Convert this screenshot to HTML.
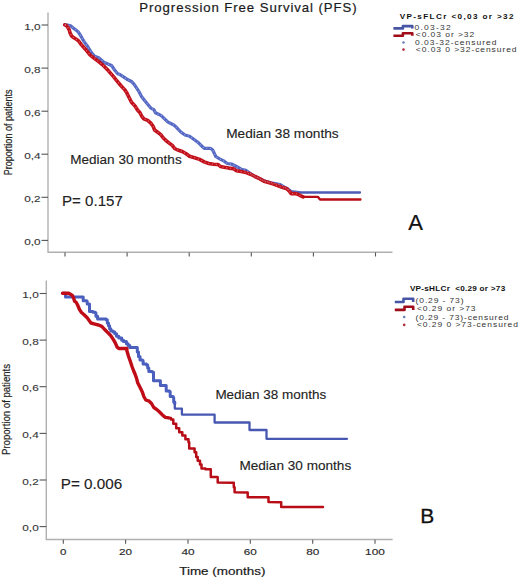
<!DOCTYPE html><html><head><meta charset="utf-8"><title>PFS</title><style>html,body{margin:0;padding:0;background:#fff}body{width:520px;height:579px;overflow:hidden;position:relative}svg{position:absolute;left:0;top:0;display:block}text{font-family:"Liberation Sans",sans-serif}</style></head><body>
<svg width="520" height="579" viewBox="0 0 520 579">
<rect width="520" height="579" fill="#fff"/>
<path d="M48 12.5V252.2H392.5" fill="none" stroke="#b0b0b0" stroke-width="1.4"/>
<path d="M41.5 25.0H48" stroke="#555" stroke-width="1.1"/>
<text x="24.2" y="29.6" font-size="9.2" fill="#383838" font-weight="normal" text-anchor="start" textLength="16.4" lengthAdjust="spacingAndGlyphs" stroke="#383838" stroke-width="0.12">1,0</text>
<path d="M41.5 68.1H48" stroke="#555" stroke-width="1.1"/>
<text x="24.2" y="72.7" font-size="9.2" fill="#383838" font-weight="normal" text-anchor="start" textLength="16.4" lengthAdjust="spacingAndGlyphs" stroke="#383838" stroke-width="0.12">0,8</text>
<path d="M41.5 111.2H48" stroke="#555" stroke-width="1.1"/>
<text x="24.2" y="115.8" font-size="9.2" fill="#383838" font-weight="normal" text-anchor="start" textLength="16.4" lengthAdjust="spacingAndGlyphs" stroke="#383838" stroke-width="0.12">0,6</text>
<path d="M41.5 154.2H48" stroke="#555" stroke-width="1.1"/>
<text x="24.2" y="158.8" font-size="9.2" fill="#383838" font-weight="normal" text-anchor="start" textLength="16.4" lengthAdjust="spacingAndGlyphs" stroke="#383838" stroke-width="0.12">0,4</text>
<path d="M41.5 197.3H48" stroke="#555" stroke-width="1.1"/>
<text x="24.2" y="201.9" font-size="9.2" fill="#383838" font-weight="normal" text-anchor="start" textLength="16.4" lengthAdjust="spacingAndGlyphs" stroke="#383838" stroke-width="0.12">0,2</text>
<path d="M41.5 240.4H48" stroke="#555" stroke-width="1.1"/>
<text x="24.2" y="245.0" font-size="9.2" fill="#383838" font-weight="normal" text-anchor="start" textLength="16.4" lengthAdjust="spacingAndGlyphs" stroke="#383838" stroke-width="0.12">0,0</text>
<path d="M65.0 252.5V256.5" stroke="#555" stroke-width="1.1"/>
<path d="M127.1 252.5V256.5" stroke="#555" stroke-width="1.1"/>
<path d="M189.2 252.5V256.5" stroke="#555" stroke-width="1.1"/>
<path d="M251.3 252.5V256.5" stroke="#555" stroke-width="1.1"/>
<path d="M313.4 252.5V256.5" stroke="#555" stroke-width="1.1"/>
<path d="M375.5 252.5V256.5" stroke="#555" stroke-width="1.1"/>
<text transform="translate(12.2,175.2) rotate(-90)" font-size="11.5" fill="#222" stroke="#222" stroke-width="0.2" textLength="85.7" lengthAdjust="spacingAndGlyphs">Proportion of patients</text>
<polyline points="64.8,24.8 66.3,24.8 70.6,25.8 73.5,28.2 75.9,30.1 78.3,32.0 80.2,34.9 82.1,38.3 84.2,41.9 87.7,46.5 91.2,52.3 94.6,56.3 99.2,58.1 103.8,62.2 111.5,65.4 114.6,70.0 117.7,73.8 120.0,74.6 123.5,76.9 126.9,79.2 131.5,81.5 133.8,83.8 136.2,87.3 138.5,90.8 141.5,96.5 144.6,100.4 147.7,104.2 150.8,108.1 153.8,109.6 155.4,112.7 158.5,114.2 161.5,115.8 164.6,118.8 167.7,121.9 170.8,123.5 173.8,125.0 175.5,126.4 178.1,129.2 181.2,132.3 185.0,135.0 189.6,136.2 192.7,138.5 195.8,140.8 198.8,143.1 201.9,146.2 204.2,148.3 210.4,148.3 212.7,150.0 214.2,153.1 215.8,156.5 219.6,158.8 224.2,161.2 227.3,163.5 231.9,164.2 236.5,166.5 241.2,169.2 245.8,170.4 250.4,173.5 255.0,176.5 259.6,178.6 264.0,180.8 270.8,182.8 280.2,184.5 285.0,187.5 288.5,189.5 291.0,191.5 299.0,192.5" fill="none" stroke="#5468c4" stroke-width="3.2" stroke-linejoin="round" stroke-linecap="round"/>
<polyline points="299.0,192.5 360.0,192.5" fill="none" stroke="#4c5cb4" stroke-width="2.3" stroke-linejoin="round" stroke-linecap="round"/>
<polyline points="64.8,24.8 67.2,26.3 69.1,29.6 70.1,33.0 71.5,35.9 73.9,37.8 76.3,39.2 78.8,41.2 81.3,44.6 85.4,49.2 90.0,54.8 94.6,58.6 99.0,61.8 102.3,64.6 108.5,70.8 113.1,76.2 116.9,80.8 120.8,85.5 124.6,89.6 126.9,93.1 129.2,97.7 131.5,102.3 135.0,106.0 137.5,110.0 140.0,112.7 141.5,115.8 143.8,118.8 147.7,120.4 150.8,123.1 153.1,126.2 154.6,130.0 157.7,132.3 160.8,134.6 163.1,137.7 166.2,140.8 169.2,143.1 172.3,145.4 174.6,148.5 177.7,150.0 182.3,151.5 186.2,153.8 189.5,156.3 194.6,157.7 199.6,159.4 204.2,161.9 208.8,163.5 213.5,164.2 218.1,164.5 220.4,166.5 224.2,167.3 228.8,168.1 233.5,168.8 236.5,170.7 241.2,171.6 245.8,172.4 250.4,174.2 255.0,176.5 259.6,178.6 264.0,181.2 269.4,182.8 273.5,184.1 277.5,185.5 282.9,187.5 286.9,188.8 289.6,191.5 291.0,193.6 295.0,193.6 297.7,194.2 300.4,195.6 303.1,196.9" fill="none" stroke="#c2101b" stroke-width="3.6" stroke-linejoin="round" stroke-linecap="round"/>
<polyline points="303.1,196.9 318.0,196.9 320.0,199.5 360.4,199.5" fill="none" stroke="#b80c16" stroke-width="2.4" stroke-linejoin="round" stroke-linecap="round"/>
<polyline points="64.8,24.8 66.3,24.8 70.6,25.8 73.5,28.2 75.9,30.1 78.3,32.0 80.2,34.9 82.1,38.3 84.2,41.9 87.7,46.5 91.2,52.3 94.6,56.3 99.2,58.1 103.8,62.2 111.5,65.4 114.6,70.0 117.7,73.8 120.0,74.6 123.5,76.9 126.9,79.2 131.5,81.5 133.8,83.8 136.2,87.3 138.5,90.8 141.5,96.5 144.6,100.4 147.7,104.2 150.8,108.1 153.8,109.6 155.4,112.7 158.5,114.2 161.5,115.8 164.6,118.8 167.7,121.9 170.8,123.5 173.8,125.0 175.5,126.4 178.1,129.2 181.2,132.3 185.0,135.0 189.6,136.2 192.7,138.5 195.8,140.8 198.8,143.1 201.9,146.2 204.2,148.3 210.4,148.3 212.7,150.0 214.2,153.1 215.8,156.5 219.6,158.8 224.2,161.2 227.3,163.5 231.9,164.2 236.5,166.5 241.2,169.2 245.8,170.4 250.4,173.5 255.0,176.5 259.6,178.6 264.0,180.8 270.8,182.8 280.2,184.5 285.0,187.5 288.5,189.5 291.0,191.5" fill="none" stroke="#c8d0f0" stroke-opacity="0.55" stroke-width="1.1" stroke-dasharray="1.2 2.6" stroke-linejoin="round"/>
<polyline points="64.8,24.8 67.2,26.3 69.1,29.6 70.1,33.0 71.5,35.9 73.9,37.8 76.3,39.2 78.8,41.2 81.3,44.6 85.4,49.2 90.0,54.8 94.6,58.6 99.0,61.8 102.3,64.6 108.5,70.8 113.1,76.2 116.9,80.8 120.8,85.5 124.6,89.6 126.9,93.1 129.2,97.7 131.5,102.3 135.0,106.0 137.5,110.0 140.0,112.7 141.5,115.8 143.8,118.8 147.7,120.4 150.8,123.1 153.1,126.2 154.6,130.0 157.7,132.3 160.8,134.6 163.1,137.7 166.2,140.8 169.2,143.1 172.3,145.4 174.6,148.5 177.7,150.0 182.3,151.5 186.2,153.8 189.5,156.3 194.6,157.7 199.6,159.4 204.2,161.9 208.8,163.5 213.5,164.2 218.1,164.5 220.4,166.5 224.2,167.3 228.8,168.1 233.5,168.8 236.5,170.7 241.2,171.6 245.8,172.4 250.4,174.2 255.0,176.5 259.6,178.6 264.0,181.2 269.4,182.8 273.5,184.1 277.5,185.5 282.9,187.5 286.9,188.8 289.6,191.5 291.0,193.6 295.0,193.6 297.7,194.2 300.4,195.6" fill="none" stroke="#f4b0b4" stroke-opacity="0.55" stroke-width="1.1" stroke-dasharray="1.2 2.6" stroke-linejoin="round"/>
<text x="139.3" y="12" font-size="13.2" fill="#1a1a1a" font-weight="normal" text-anchor="start" textLength="217.3" lengthAdjust="spacing" stroke="#1a1a1a" stroke-width="0.2">Progression Free Survival (PFS)</text>
<text x="226.2" y="137.9" font-size="13.2" fill="#222" font-weight="normal" text-anchor="start" textLength="112.5" lengthAdjust="spacingAndGlyphs" stroke="#222" stroke-width="0.12">Median 38 months</text>
<text x="70.2" y="163.7" font-size="13.2" fill="#222" font-weight="normal" text-anchor="start" textLength="111.5" lengthAdjust="spacingAndGlyphs" stroke="#222" stroke-width="0.12">Median 30 months</text>
<text x="62" y="206.1" font-size="14" fill="#222" font-weight="normal" text-anchor="start" textLength="60.8" lengthAdjust="spacingAndGlyphs" stroke="#222" stroke-width="0.12">P= 0.157</text>
<text x="408.2" y="230.2" font-size="22" fill="#111" font-weight="normal" text-anchor="start" textLength="14.7" lengthAdjust="spacingAndGlyphs" stroke="#111" stroke-width="0.2">A</text>
<text transform="translate(399.7,19.2) scale(1.3,1)" font-size="6.3" fill="#111" font-weight="bold" textLength="87.54" lengthAdjust="spacing">VP-sFLCr &lt;0,03 or &gt;32</text>
<path d="M393.4 28.4H402.9V26.1H412.3V28.4" fill="none" stroke="#4655a5" stroke-width="2.6" stroke-linejoin="round"/>
<path d="M393.4 35.8H402.9V33.3H412.3V35.8" fill="none" stroke="#a00c18" stroke-width="2.6" stroke-linejoin="round"/>
<circle cx="403.5" cy="42.5" r="1.3" fill="#6a80b8"/>
<circle cx="403.5" cy="49.6" r="1.3" fill="#b03040"/>
<text transform="translate(414.6,30.1) scale(1.25,1)" font-size="6.8" fill="#333" font-weight="normal" textLength="28.88" lengthAdjust="spacing">0.03-32</text>
<text transform="translate(415.8,37.4) scale(1.25,1)" font-size="6.8" fill="#333" font-weight="normal" textLength="46.72" lengthAdjust="spacing">&lt;0.03 or &gt;32</text>
<text transform="translate(415.0,45.2) scale(1.25,1)" font-size="6.8" fill="#333" font-weight="normal" textLength="65.12" lengthAdjust="spacing">0.03-32-censured</text>
<text transform="translate(415.8,52.4) scale(1.25,1)" font-size="6.8" fill="#333" font-weight="normal" textLength="80.64" lengthAdjust="spacing">&lt;0.03 0 &gt;32-censured</text>
<path d="M46.3 280.5V539.5H392.6" fill="none" stroke="#b0b0b0" stroke-width="1.4"/>
<path d="M39.6 293.5H46.3" stroke="#555" stroke-width="1.1"/>
<text x="22.3" y="298.1" font-size="9.2" fill="#383838" font-weight="normal" text-anchor="start" textLength="16.4" lengthAdjust="spacingAndGlyphs" stroke="#383838" stroke-width="0.12">1,0</text>
<path d="M39.6 340.1H46.3" stroke="#555" stroke-width="1.1"/>
<text x="22.3" y="344.7" font-size="9.2" fill="#383838" font-weight="normal" text-anchor="start" textLength="16.4" lengthAdjust="spacingAndGlyphs" stroke="#383838" stroke-width="0.12">0,8</text>
<path d="M39.6 386.7H46.3" stroke="#555" stroke-width="1.1"/>
<text x="22.3" y="391.3" font-size="9.2" fill="#383838" font-weight="normal" text-anchor="start" textLength="16.4" lengthAdjust="spacingAndGlyphs" stroke="#383838" stroke-width="0.12">0,6</text>
<path d="M39.6 433.4H46.3" stroke="#555" stroke-width="1.1"/>
<text x="22.3" y="438.0" font-size="9.2" fill="#383838" font-weight="normal" text-anchor="start" textLength="16.4" lengthAdjust="spacingAndGlyphs" stroke="#383838" stroke-width="0.12">0,4</text>
<path d="M39.6 480.0H46.3" stroke="#555" stroke-width="1.1"/>
<text x="22.3" y="484.6" font-size="9.2" fill="#383838" font-weight="normal" text-anchor="start" textLength="16.4" lengthAdjust="spacingAndGlyphs" stroke="#383838" stroke-width="0.12">0,2</text>
<path d="M39.6 526.6H46.3" stroke="#555" stroke-width="1.1"/>
<text x="22.3" y="531.2" font-size="9.2" fill="#383838" font-weight="normal" text-anchor="start" textLength="16.4" lengthAdjust="spacingAndGlyphs" stroke="#383838" stroke-width="0.12">0,0</text>
<path d="M63.3 539.8V543.8" stroke="#555" stroke-width="1.1"/>
<text x="63.3" y="555.1" font-size="9.8" fill="#2a2a2a" font-weight="normal" text-anchor="middle" textLength="6.4" lengthAdjust="spacingAndGlyphs" stroke="#2a2a2a" stroke-width="0.15">0</text>
<path d="M125.6 539.8V543.8" stroke="#555" stroke-width="1.1"/>
<text x="125.6" y="555.1" font-size="9.8" fill="#2a2a2a" font-weight="normal" text-anchor="middle" textLength="13.1" lengthAdjust="spacingAndGlyphs" stroke="#2a2a2a" stroke-width="0.15">20</text>
<path d="M188.0 539.8V543.8" stroke="#555" stroke-width="1.1"/>
<text x="188.0" y="555.1" font-size="9.8" fill="#2a2a2a" font-weight="normal" text-anchor="middle" textLength="13.1" lengthAdjust="spacingAndGlyphs" stroke="#2a2a2a" stroke-width="0.15">40</text>
<path d="M250.3 539.8V543.8" stroke="#555" stroke-width="1.1"/>
<text x="250.3" y="555.1" font-size="9.8" fill="#2a2a2a" font-weight="normal" text-anchor="middle" textLength="13.1" lengthAdjust="spacingAndGlyphs" stroke="#2a2a2a" stroke-width="0.15">60</text>
<path d="M312.7 539.8V543.8" stroke="#555" stroke-width="1.1"/>
<text x="312.7" y="555.1" font-size="9.8" fill="#2a2a2a" font-weight="normal" text-anchor="middle" textLength="13.1" lengthAdjust="spacingAndGlyphs" stroke="#2a2a2a" stroke-width="0.15">80</text>
<path d="M375.0 539.8V543.8" stroke="#555" stroke-width="1.1"/>
<text x="375.0" y="555.1" font-size="9.8" fill="#2a2a2a" font-weight="normal" text-anchor="middle" textLength="19.8" lengthAdjust="spacingAndGlyphs" stroke="#2a2a2a" stroke-width="0.15">100</text>
<text transform="translate(10.4,455) rotate(-90)" font-size="11.5" fill="#222" stroke="#222" stroke-width="0.2" textLength="91" lengthAdjust="spacingAndGlyphs">Proportion of patients</text>
<polyline points="63.0,293.3 65.5,293.3 65.5,296.9 82.6,296.9 83.2,296.9 83.2,300.7 86.7,300.7 86.7,301.2 87.2,301.2 87.2,304.1 89.5,304.1 89.5,304.7 89.5,311.6 93.0,311.6 93.0,312.2 95.3,312.2 95.3,312.8 95.9,312.8 95.9,316.2 97.6,316.2 97.6,319.1 106.2,319.1 106.2,319.8 107.3,319.8 107.3,322.9 108.5,322.9 108.5,325.8 109.6,325.8 109.6,328.7 110.8,328.7 110.8,331.0 113.1,331.0 113.1,332.1 114.8,332.1 114.8,333.8 116.5,333.8 116.5,336.2 118.8,336.2 118.8,337.9 121.7,337.9 121.7,340.2 123.5,340.2 123.5,341.4 126.4,341.4 126.4,343.7 128.1,343.7 128.1,345.4 129.8,345.4 129.8,347.5 137.3,347.5 137.3,348.0 137.3,351.9 138.5,351.9 138.5,356.5 140.0,356.5 140.0,360.0 142.5,360.0 142.5,360.6 143.1,360.6 143.1,364.0 146.5,364.0 146.5,364.9 147.7,364.9 147.7,368.1 148.8,368.1 148.8,371.5 152.3,371.5 152.3,372.1 152.9,372.3 153.5,372.3 153.5,380.7 160.4,380.7 160.4,381.0 160.4,385.4 166.2,385.4 166.2,386.0 166.2,391.1 169.6,391.1 169.6,391.7 170.2,391.7 170.2,396.5 173.1,396.5 173.1,397.5 173.7,397.5 173.7,402.1 174.8,402.1 174.8,403.8" fill="none" stroke="#4a5fbe" stroke-width="3" stroke-linejoin="round" stroke-linecap="round"/>
<polyline points="174.8,403.8 174.8,408.6 181.9,408.6 181.9,414.6 214.6,414.7 214.6,422.5 249.5,422.5 249.5,430.0 266.5,430.0 266.5,438.8 347.0,438.8" fill="none" stroke="#4858b2" stroke-width="2.3" stroke-linejoin="round" stroke-linecap="round"/>
<polyline points="62.5,293.3 68.8,293.3 72.3,295.4 73.5,297.7 74.6,301.2 76.3,302.5 77.6,305.0 79.5,309.5 81.5,312.5 83.8,314.5 87.2,317.8 89.5,320.9 91.0,323.0 95.0,324.1 98.5,325.0 101.8,326.4 105.0,329.8 107.3,332.1 110.2,335.0 111.9,337.3 113.7,340.2 115.4,343.1 117.1,347.1 118.8,348.5 126.9,348.5 126.9,350.8 128.5,356.2 130.2,361.0 132.0,366.5 133.5,370.5 135.0,374.0 136.5,378.1 137.7,382.7 140.0,387.3 142.3,391.9 143.8,396.5 145.8,400.0 149.2,401.2 151.5,403.5 153.8,407.5 156.2,409.2 158.5,411.0 160.8,413.3 163.1,415.6 165.4,417.3 168.8,417.9" fill="none" stroke="#c00c17" stroke-width="3.4" stroke-linejoin="round" stroke-linecap="round"/>
<polyline points="168.8,417.9 171.0,417.9 171.0,419.5 173.3,419.5 173.3,423.8 176.2,423.8 176.2,428.3 179.2,428.3 179.2,432.3 182.3,432.3 182.3,435.4 185.4,435.4 185.4,439.2 188.5,439.2 188.5,442.3 189.2,442.3 189.2,448.5 193.8,448.5 194.6,448.5 194.6,452.3 196.2,452.3 196.2,456.9 197.7,456.9 197.7,460.8 200.0,460.8 200.0,464.6 201.5,464.6 201.5,468.5 205.4,468.5 205.4,469.2 210.4,469.2 210.8,469.2 210.8,477.0 217.3,477.0 217.3,477.3 217.7,477.3 217.7,482.5 233.3,482.7 233.8,482.7 233.8,487.3 234.6,487.3 234.6,492.2 247.7,492.4 247.7,497.3 268.5,497.3 268.5,502.0 280.8,502.2 281.2,502.2 281.2,506.9 323.0,506.9" fill="none" stroke="#b80c16" stroke-width="2.5" stroke-linejoin="round" stroke-linecap="round"/>
<text x="215.4" y="398.5" font-size="13" fill="#222" font-weight="normal" text-anchor="start" textLength="110.8" lengthAdjust="spacingAndGlyphs" stroke="#222" stroke-width="0.12">Median 38 months</text>
<text x="239.4" y="470.2" font-size="13" fill="#222" font-weight="normal" text-anchor="start" textLength="111.8" lengthAdjust="spacingAndGlyphs" stroke="#222" stroke-width="0.12">Median 30 months</text>
<text x="60.8" y="488.5" font-size="14" fill="#222" font-weight="normal" text-anchor="start" textLength="61.5" lengthAdjust="spacingAndGlyphs" stroke="#222" stroke-width="0.12">P= 0.006</text>
<text x="420.2" y="522.7" font-size="20" fill="#111" font-weight="normal" text-anchor="start" textLength="14" lengthAdjust="spacingAndGlyphs" stroke="#111" stroke-width="0.3">B</text>
<text x="179.2" y="575.2" font-size="11.8" fill="#1a1a1a" font-weight="normal" text-anchor="start" textLength="86.2" lengthAdjust="spacingAndGlyphs" stroke="#1a1a1a" stroke-width="0.2">Time (months)</text>
<text transform="translate(409.9,290.8) scale(1.3,1)" font-size="6.3" fill="#111" font-weight="bold" textLength="73.31" lengthAdjust="spacing">VP-sHLCr&#160; &lt;0.29 or &gt;73</text>
<path d="M394.8 302H403.5V298.7H413.2V302" fill="none" stroke="#4655a5" stroke-width="2.6" stroke-linejoin="round"/>
<path d="M394.8 309.9H404.5V306.8H413.2V309.9" fill="none" stroke="#a00c18" stroke-width="2.6" stroke-linejoin="round"/>
<circle cx="404.2" cy="317" r="1.3" fill="#6a80b8"/>
<circle cx="404.2" cy="324.9" r="1.3" fill="#b03040"/>
<text transform="translate(415.6,303.2) scale(1.25,1)" font-size="6.8" fill="#333" font-weight="normal" textLength="38.32" lengthAdjust="spacing">(0.29 - 73)</text>
<text transform="translate(416.9,311.2) scale(1.25,1)" font-size="6.8" fill="#333" font-weight="normal" textLength="46.96" lengthAdjust="spacing">&lt;0.29 or &gt;73</text>
<text transform="translate(415.6,319.7) scale(1.25,1)" font-size="6.8" fill="#333" font-weight="normal" textLength="74.32" lengthAdjust="spacing">(0.29 - 73)-censured</text>
<text transform="translate(416.9,327.4) scale(1.25,1)" font-size="6.8" fill="#333" font-weight="normal" textLength="80.88" lengthAdjust="spacing">&lt;0.29 0 &gt;73-censured</text>
</svg></body></html>
